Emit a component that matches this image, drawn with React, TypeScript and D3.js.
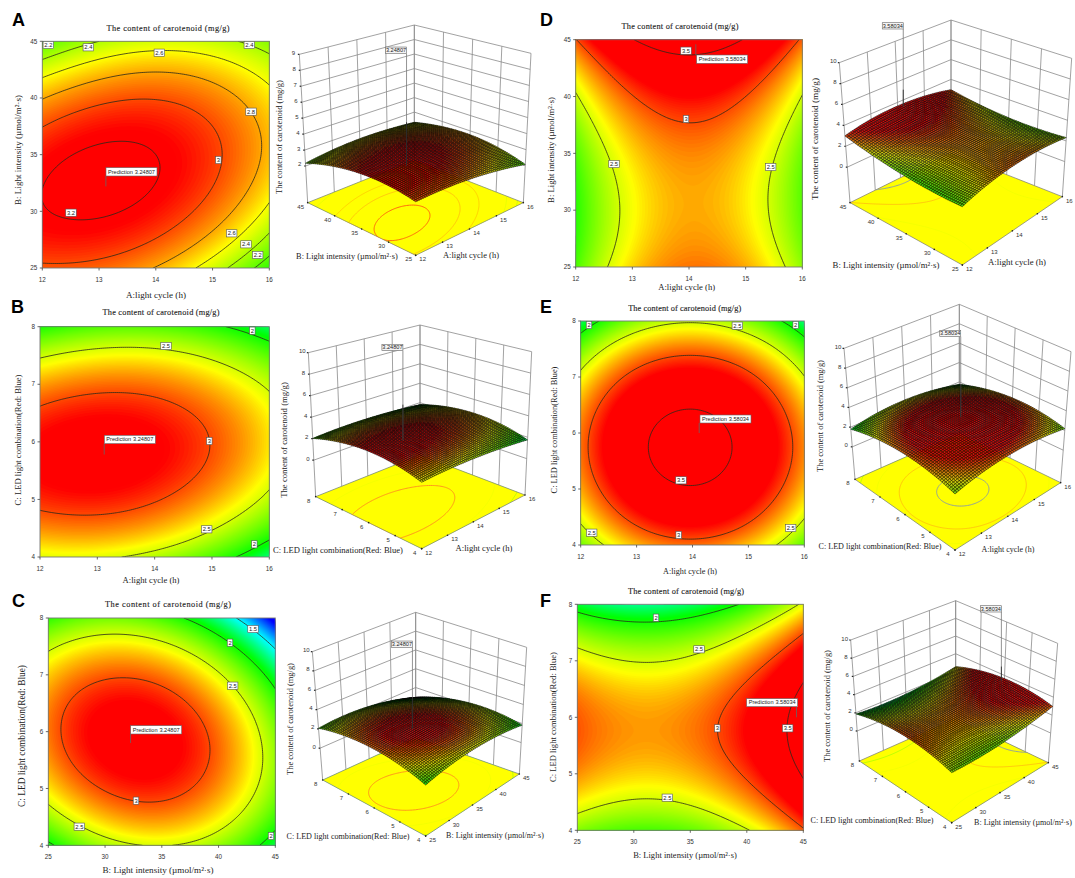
import React, { useEffect, useRef } from "react";
import * as d3 from "d3";

// ---------- values (rows: y-factor high to low, columns: x-factor low to high)
const heatA = [
  [2.17, 2.40, 2.50, 2.46, 2.30],
  [2.79, 2.95, 2.99, 2.89, 2.66],
  [3.13, 3.23, 3.20, 3.04, 2.75],
  [3.19, 3.22, 3.13, 2.91, 2.55],
  [2.97, 2.94, 2.79, 2.50, 2.08],
];
const heatB = [
  [2.02, 2.16, 2.17, 2.05, 1.79],
  [2.81, 2.92, 2.90, 2.74, 2.45],
  [3.17, 3.24, 3.18, 2.99, 2.66],
  [3.07, 3.11, 3.02, 2.79, 2.43],
  [2.53, 2.54, 2.41, 2.15, 1.75],
];
const heatC = [
  [2.06, 2.25, 2.13, 1.70, 0.95],
  [2.71, 2.96, 2.90, 2.53, 1.85],
  [2.90, 3.22, 3.22, 2.91, 2.29],
  [2.65, 3.02, 3.09, 2.84, 2.29],
  [1.94, 2.38, 2.51, 2.33, 1.83],
];
const heatD = [
  [2.99, 3.49, 3.65, 3.48, 2.96],
  [2.47, 2.99, 3.16, 3.00, 2.49],
  [2.16, 2.69, 2.87, 2.72, 2.23],
  [2.05, 2.59, 2.79, 2.65, 2.18],
  [2.14, 2.70, 2.91, 2.79, 2.32],
];
const heatE = [
  [1.79, 2.31, 2.47, 2.28, 1.74],
  [2.57, 3.09, 3.25, 3.06, 2.51],
  [2.90, 3.42, 3.59, 3.39, 2.85],
  [2.79, 3.31, 3.48, 3.28, 2.74],
  [2.24, 2.76, 2.92, 2.73, 2.18],
];
const heatF = [
  [1.87, 1.71, 1.78, 2.05, 2.55],
  [2.64, 2.49, 2.55, 2.83, 3.32],
  [2.97, 2.82, 2.88, 3.16, 3.65],
  [2.85, 2.70, 2.76, 3.04, 3.53],
  [2.29, 2.14, 2.20, 2.48, 2.97],
];
const cycleTicks = [12, 13, 14, 15, 16];
const intensityTicks = [25, 30, 35, 40, 45];
const ledTicks = [4, 5, 6, 7, 8];
const zTicksA = [2, 3, 4, 5, 6, 7, 8, 9];
const zTicksOther = [0, 2, 4, 6, 8, 10];
const levelsA = [2.2, 2.4, 2.6, 2.8, 3, 3.2];
const levelsOther = [1.5, 2, 2.5, 3, 3.5];
const colorValues = [1.05, 1.5, 1.95, 2.6, 3.15];
const colorStops = ["#0000ff", "#00ffff", "#00ff00", "#ffff00", "#ff0000"];
const predictionABC = "3.24807";
const predictionDEF = "3.58034";
const TITLE = "The content of carotenoid (mg/g)";
const CYCLE = "A:light cycle (h)";
const INTENSITY = "B: Light intensity (µmol/m²·s)";
const LED = "C: LED light combination(Red: Blue)";

type Pt = [number, number];
// ---------- layout (zoom coordinates are 3x crops from an origin)
const panels: any[] = [
  {
    id: "A", table: heatA, xt: cycleTicks, yt: intensityTicks, levels: levelsA, pred: predictionABC, zTicks: zTicksA, zBot: -0.3, zTop: 9,
    letter: [12, 26], box: [42.3, 269.3, 41.3, 268],
    title: [168, 31, 123], xl: [CYCLE, 156, 298, 60], yl: [INTENSITY, 21, 150, 110],
    org: [0, 0], labels: [["2.2", 145, 135], ["2.4", 265, 142], ["2.6", 478, 158], ["2.4", 748, 135], ["2.8", 753, 335], ["3", 655, 480], ["3.2", 213, 638], ["2.6", 695, 700], ["2.4", 738, 733], ["2.2", 773, 765]],
    design: [-0.44, -0.28], flag: [318, 503, 528],
    org3: [270, 20], L: [113, 548], F: [437, 706], R: [760, 548], K: [433, 420], Lt: [88, 103], Ft: [437, 249], Rt: [783, 100], Kt: [433, 15], flag3: 100,
    t3l: [INTENSITY, 347, 259, 102], t3r: [CYCLE, 471, 258, 56], t3z: [282, 137, 114],
  },
  {
    id: "B", table: heatB, xt: cycleTicks, yt: ledTicks, levels: levelsOther, pred: predictionABC, zTicks: zTicksOther, zBot: -3.4, zTop: 10,
    letter: [11, 313], box: [40, 269.3, 326.7, 557],
    title: [161, 315, 117], xl: [CYCLE, 151, 583, 57], yl: [LED, 21, 440, 131],
    org: [0, 295], labels: [["2", 757, 107], ["2.5", 498, 153], ["3", 628, 438], ["2.5", 620, 703], ["2", 763, 748]],
    design: [-0.44, -0.11], flag: [313, 421, 446],
    org3: [270, 310], L: [137, 560], F: [455, 716], R: [765, 555], K: [450, 435], Lt: [115, 128], Ft: [455, 266], Rt: [785, 125], Kt: [450, 45], flag3: 122,
    t3l: [LED, 338, 553, 130], t3r: [CYCLE, 484, 551, 57], t3z: [287, 440, 116],
  },
  {
    id: "C", table: heatC, xt: intensityTicks, yt: ledTicks, levels: levelsOther, pred: predictionABC, zTicks: zTicksOther, zBot: -3.3, zTop: 10,
    letter: [12, 607], box: [48.3, 275.3, 618, 845.3],
    title: [168, 607, 126], xl: [INTENSITY, 158, 873, 111], yl: [LED, 25, 736, 142],
    org: [0, 590], labels: [["1.5", 759, 117], ["2", 690, 158], ["2.5", 698, 287], ["3", 408, 632], ["2.5", 238, 710], ["2", 813, 738]],
    design: [-0.275, -0.1], flag: [392, 407, 432],
    org3: [270, 600], L: [158, 540], F: [467, 708], R: [748, 522], K: [437, 412], Lt: [127, 155], Ft: [467, 320], Rt: [770, 142], Kt: [437, 37], flag3: 142,
    t3l: [LED, 348, 839, 123], t3r: [INTENSITY, 495, 838, 98], t3z: [293, 719, 112],
  },
  {
    id: "D", table: heatD, xt: cycleTicks, yt: intensityTicks, levels: levelsOther, pred: predictionDEF, zTicks: zTicksOther, zBot: -3.4, zTop: 10,
    letter: [540, 26], box: [575.7, 802.3, 39.7, 267],
    title: [680, 29, 117], xl: [CYCLE, 686.7, 290, 57], yl: [INTENSITY, 554, 150, 106],
    org: [540, 10], labels: [["3.5", 438, 122], ["3", 438, 327], ["2.5", 222, 462], ["2.5", 692, 471]],
    design: [0.06, 0.96], flag: [470, 135, 160],
    org3: [800, 10], L: [150, 578], F: [487, 765], R: [787, 560], K: [453, 428], Lt: [118, 158], Ft: [487, 342], Rt: [815, 145], Kt: [453, 30], flag3: 57,
    t3l: [INTENSITY, 886, 268, 107], t3r: [CYCLE, 1017, 265, 58], t3z: [818, 139, 122],
  },
  {
    id: "E", table: heatE, xt: cycleTicks, yt: ledTicks, levels: levelsOther, pred: predictionDEF, zTicks: zTicksOther, zBot: -3.3, zTop: 10,
    letter: [540, 313], box: [580.7, 804.3, 321, 545],
    title: [684.7, 311, 113], xl: [CYCLE, 690, 574, 54], yl: [LED, 557, 430, 127],
    org: [540, 295], labels: [["2", 147, 90], ["2.5", 592, 92], ["2", 767, 90], ["3.5", 423, 556], ["3", 416, 720], ["2.5", 155, 713], ["2.5", 752, 699]],
    design: [0.06, 0], flag: [480, 360, 384],
    org3: [800, 300], L: [165, 538], F: [465, 750], R: [782, 548], K: [478, 400], Lt: [132, 145], Ft: [465, 347], Rt: [813, 155], Kt: [478, 13], flag3: 110,
    t3l: [LED, 880, 549, 123], t3r: [CYCLE, 1008, 552, 53], t3z: [823, 416, 112],
  },
  {
    id: "F", table: heatF, xt: intensityTicks, yt: ledTicks, levels: levelsOther, pred: predictionDEF, zTicks: zTicksOther, zBot: -3.3, zTop: 10,
    letter: [540, 607], box: [577.3, 803.3, 604.3, 830.3],
    title: [686, 594, 116], xl: [INTENSITY, 685, 858, 104], yl: [LED, 556, 717, 130],
    org: [540, 590], labels: [["2", 348, 83], ["2.5", 477, 178], ["3", 532, 415], ["3.5", 743, 415], ["2.5", 382, 623]],
    design: [0.94, 0], flag: [620, 326, 350],
    org3: [800, 590], L: [178, 513], F: [455, 698], R: [745, 518], K: [467, 385], Lt: [152, 150], Ft: [455, 341], Rt: [773, 160], Kt: [467, 32], flag3: 66,
    t3l: [LED, 872, 823, 123], t3r: [INTENSITY, 1023, 825, 98], t3z: [830, 706, 112],
  },
];

const SERIF = "'Liberation Serif', serif";
const SANS = "'Liberation Sans', sans-serif";
const heat = d3.scaleLinear<string>().domain(colorValues).range(colorStops).interpolate(d3.interpolateRgb).clamp(true);
const nodes = [-1, -0.5, 0, 0.5, 1];
const basis = (t: number) =>
  nodes.map((n, i) => nodes.reduce((p, m, j) => (j === i ? p : (p * (t - m)) / (n - m)), 1));
function sampler(table: number[][]) {
  return (u: number, v: number) => {
    const bu = basis(u), bv = basis(v);
    let s = 0;
    for (let r = 0; r < 5; r++) for (let c = 0; c < 5; c++) s += table[4 - r][c] * bv[r] * bu[c];
    return s;
  };
}

function drawPanel(root: any, p: any, idx: number) {
  const f = sampler(p.table);
  const N = 115;
  const grid = new Array(N * N);
  for (let j = 0; j < N; j++)
    for (let i = 0; i < N; i++) grid[j * N + i] = f(-1 + (2 * i) / (N - 1), 1 - (2 * j) / (N - 1));
  const [minV, maxV] = d3.extent(grid) as [number, number];
  const [x0, x1, y0, y1] = p.box;
  const sx = d3.scaleLinear().domain([-1, 1]).range([x0, x1]);
  const sy = d3.scaleLinear().domain([-1, 1]).range([y1, y0]);
  const gu = (g: number) => -1 + (2 * (g - 0.5)) / (N - 1);
  const gv = (g: number) => 1 - (2 * (g - 0.5)) / (N - 1);
  const contours = d3.contours().size([N, N]);
  const z = (q: number[], org: number[]): Pt => [org[0] + q[0] / 3, org[1] + q[1] / 3];

  const g = root.append("g");
  // ---- panel letter
  g.append("text").attr("x", p.letter[0]).attr("y", p.letter[1]).attr("font-family", SANS).attr("font-weight", 700).attr("font-size", 18).text(p.id);

  // ---- 2D heat map
  const clipId = "clip" + idx;
  root.append("clipPath").attr("id", clipId).append("rect").attr("x", x0).attr("y", y0).attr("width", x1 - x0).attr("height", y1 - y0);
  const hm = g.append("g").attr("clip-path", `url(#${clipId})`);
  hm.append("rect").attr("x", x0).attr("y", y0).attr("width", x1 - x0).attr("height", y1 - y0).attr("fill", heat(minV));
  const path2d = d3.geoPath(d3.geoTransform({
    point(this: any, a: number, b: number) { this.stream.point(sx(gu(a)), sy(gv(b))); },
  }));
  const step = 0.015;
  d3.range(minV + step, maxV, step).forEach((th) => {
    hm.append("path").attr("d", path2d(contours.contour(grid, th) as any)).attr("fill", heat(th));
  });
  p.levels.forEach((lv: number) => {
    if (lv <= minV || lv >= maxV) return;
    hm.append("path").attr("d", path2d(contours.contour(grid, lv) as any)).attr("fill", "none").attr("stroke", "#2a2a1a").attr("stroke-width", 0.8);
  });
  g.append("rect").attr("x", x0).attr("y", y0).attr("width", x1 - x0).attr("height", y1 - y0).attr("fill", "none").attr("stroke", "#777").attr("stroke-width", 0.9);
  // axes
  const tx = d3.scaleLinear().domain(d3.extent(p.xt) as any).range([x0, x1]);
  const ty = d3.scaleLinear().domain(d3.extent(p.yt) as any).range([y1, y0]);
  p.xt.forEach((t: number) => {
    g.append("line").attr("x1", tx(t)).attr("x2", tx(t)).attr("y1", y1).attr("y2", y1 + 2.5).attr("stroke", "#444").attr("stroke-width", 0.8);
    g.append("text").attr("x", tx(t)).attr("y", y1 + 14).attr("text-anchor", "middle").attr("font-family", SANS).attr("font-size", 6.3).attr("fill", "#333").text(t);
  });
  p.yt.forEach((t: number) => {
    g.append("line").attr("x1", x0 - 2.5).attr("x2", x0).attr("y1", ty(t)).attr("y2", ty(t)).attr("stroke", "#444").attr("stroke-width", 0.8);
    g.append("text").attr("x", x0 - 5).attr("y", ty(t) + 2.2).attr("text-anchor", "end").attr("font-family", SANS).attr("font-size", 6.3).attr("fill", "#333").text(t);
  });
  // serif text whose font size is fitted to the width it has in the reference
  const serifText = (x: number, y: number, s: string, len: number, rot = false) => {
    const e = g.append("text").attr("font-family", SERIF).attr("font-size", 10).attr("fill", "#222").attr("text-anchor", "middle").text(s);
    if (rot) e.attr("transform", `translate(${x},${y}) rotate(-90)`);
    else e.attr("x", x).attr("y", y);
    const nat = e.node().getComputedTextLength();
    if (nat > 0) e.attr("font-size", (10 * len) / nat);
    return e;
  };
  g.append("text").attr("x", p.title[0]).attr("y", p.title[1]).attr("text-anchor", "middle").attr("font-family", SERIF).attr("font-size", 8.3)
    .attr("fill", "#222").attr("stroke", "#222").attr("stroke-width", 0.12).attr("textLength", p.title[2]).attr("lengthAdjust", "spacing").text(TITLE);
  serifText(p.xl[1], p.xl[2], p.xl[0], p.xl[3]);
  serifText(p.yl[1], p.yl[2], p.yl[0], p.yl[3], true);
  // contour labels
  p.labels.forEach((l: any) => {
    const [cx, cy] = z([l[1], l[2]], p.org);
    const w = l[0].length > 1 ? 10.5 : 5.5;
    g.append("rect").attr("x", cx - w / 2).attr("y", cy - 3.6).attr("width", w).attr("height", 7.2).attr("fill", "#fff").attr("stroke", "#555").attr("stroke-width", 0.6);
    g.append("text").attr("x", cx).attr("y", cy + 2).attr("text-anchor", "middle").attr("font-family", SANS).attr("font-size", 5.8).attr("fill", "#222").text(l[0]);
  });
  // prediction flag on the map
  const fx0 = z([p.flag[0], p.flag[1]], p.org);
  const fy1 = z([p.flag[0], p.flag[2]], p.org)[1];
  const dx = sx(p.design[0]), dy = sy(p.design[1]);
  const bw = 51;
  g.append("line").attr("x1", dx).attr("x2", dx).attr("y1", dy).attr("y2", dy < fx0[1] ? fx0[1] : fy1).attr("stroke", "#666").attr("stroke-width", 0.8);
  g.append("rect").attr("x", fx0[0]).attr("y", fx0[1]).attr("width", bw).attr("height", fy1 - fx0[1]).attr("fill", "#fff").attr("stroke", "#666").attr("stroke-width", 0.6);
  g.append("text").attr("x", fx0[0] + 2).attr("y", fy1 - 2.3).attr("font-family", SANS).attr("font-size", 5.6).attr("fill", "#222").text("Prediction");
  g.append("text").attr("x", fx0[0] + bw - 2).attr("y", fy1 - 2.3).attr("text-anchor", "end").attr("font-family", SANS).attr("font-size", 5.6).attr("fill", "#222").text(p.pred);

  // ---- 3D surface
  const c = (q: number[]) => z(q, p.org3);
  const L = c(p.L), F = c(p.F), R = c(p.R), K = c(p.K);
  const Lt = c(p.Lt), Ft = c(p.Ft), Rt = c(p.Rt), Kt = c(p.Kt);
  const bil = (a: Pt, b: Pt, d: Pt, e: Pt, u: number, v: number): Pt => {
    const s = (u + 1) / 2, t = (v + 1) / 2;
    return [
      a[0] * (1 - s) * (1 - t) + b[0] * s * (1 - t) + d[0] * (1 - s) * t + e[0] * s * t,
      a[1] * (1 - s) * (1 - t) + b[1] * s * (1 - t) + d[1] * (1 - s) * t + e[1] * s * t,
    ];
  };
  const hs = d3.scaleLinear().domain([p.zBot, p.zTop]).range([0, 1]);
  const P = (u: number, v: number, zz: number): Pt => {
    const a = bil(F, R, L, K, u, v), b = bil(Ft, Rt, Lt, Kt, u, v), h = hs(zz);
    return [a[0] + (b[0] - a[0]) * h, a[1] + (b[1] - a[1]) * h];
  };
  const g3 = g.append("g");
  const su = d3.scaleLinear().domain(d3.extent(p.xt) as any).range([-1, 1]);
  const sv = d3.scaleLinear().domain(d3.extent(p.yt) as any).range([-1, 1]);
  const wall = (a: Pt, b: Pt, w = 0.8, col = "#8a8a8a") =>
    g3.append("line").attr("x1", a[0]).attr("y1", a[1]).attr("x2", b[0]).attr("y2", b[1]).attr("stroke", col).attr("stroke-width", w);
  // walls
  const zLines = [...p.zTicks];
  if (!zLines.includes(p.zTop)) zLines.push(p.zTop);
  zLines.forEach((t: number) => {
    wall(P(-1, 1, t), P(1, 1, t));
    wall(P(1, 1, t), P(1, -1, t));
  });
  p.xt.forEach((t: number) => wall(P(su(t), 1, p.zBot), P(su(t), 1, p.zTop)));
  p.yt.forEach((t: number) => wall(P(1, sv(t), p.zBot), P(1, sv(t), p.zTop)));
  // z axis ticks
  p.zTicks.forEach((t: number) => {
    const q = P(-1, 1, t);
    wall([q[0] - 1.5, q[1]], q, 1.2, "#222");
    g3.append("text").attr("x", q[0] - 6).attr("y", q[1] + 0.5).attr("text-anchor", "middle").attr("font-family", SANS).attr("font-size", 6).attr("fill", "#333").text(t);
  });
  // floor
  const floorPath = `M${L}L${F}L${R}L${K}Z`;
  const clip3 = "floor" + idx;
  root.append("clipPath").attr("id", clip3).append("path").attr("d", floorPath);
  g3.append("path").attr("d", floorPath).attr("fill", "#ffff00").attr("stroke", "#777").attr("stroke-width", 0.7);
  const floorProj = d3.geoPath(d3.geoTransform({
    point(this: any, a: number, b: number) { const q = P(gu(a), gv(b), p.zBot); this.stream.point(q[0], q[1]); },
  }));
  const fl = g3.append("g").attr("clip-path", `url(#${clip3})`);
  const topLevel = d3.max(p.levels.filter((lv: number) => lv < maxV)) as number;
  p.levels.forEach((lv: number) => {
    if (lv <= minV || lv >= maxV) return;
    fl.append("path").attr("d", floorProj(contours.contour(grid, lv) as any)).attr("fill", "none")
      .attr("stroke", lv >= 3.5 ? "#8899aa" : lv >= 3.1 ? "#ff5a10" : lv >= 2.9 ? "#ff8a20" : heat(lv))
      .attr("stroke-width", lv === topLevel ? 0.9 : 0.6)
      .attr("stroke-opacity", lv < 2.75 ? 0.45 : lv === topLevel ? 1 : 0.75);
  });
  // floor ticks + labels
  p.yt.forEach((t: number) => {
    const q = P(-1, sv(t), p.zBot);
    g3.append("circle").attr("cx", q[0]).attr("cy", q[1]).attr("r", 0.8).attr("fill", "#222");
    g3.append("text").attr("x", q[0] - 7).attr("y", q[1] + 6).attr("text-anchor", "middle").attr("font-family", SANS).attr("font-size", 6).attr("fill", "#333").text(t);
  });
  p.xt.forEach((t: number) => {
    const q = P(su(t), -1, p.zBot);
    g3.append("circle").attr("cx", q[0]).attr("cy", q[1]).attr("r", 0.8).attr("fill", "#222");
    g3.append("text").attr("x", q[0] + 7).attr("y", q[1] + 6).attr("text-anchor", "middle").attr("font-family", SANS).attr("font-size", 6).attr("fill", "#333").text(t);
  });
  // surface mesh, painted back to front
  const M = 56;
  const surf = g3.append("g").attr("filter", "url(#soft)");
  const mute = d3.interpolateRgb;
  for (let iu = M - 1; iu >= 0; iu--) {
    for (let iv = M - 1; iv >= 0; iv--) {
      const u0 = -1 + (2 * iu) / M, u1 = -1 + (2 * (iu + 1)) / M;
      const v0 = -1 + (2 * iv) / M, v1 = -1 + (2 * (iv + 1)) / M;
      const q = [P(u0, v0, f(u0, v0)), P(u1, v0, f(u1, v0)), P(u1, v1, f(u1, v1)), P(u0, v1, f(u0, v1))];
      const col = mute(heat(f((u0 + u1) / 2, (v0 + v1) / 2)), "#3a2a2a")(0.25);
      surf.append("path").attr("d", `M${q.join("L")}Z`).attr("fill", col).attr("stroke", "#000").attr("stroke-width", 0.55).attr("stroke-opacity", 0.85);
    }
  }
  // prediction flag on the surface
  const dp = P(p.design[0], p.design[1], +p.pred);
  const back = P(1, 1, f(1, 1));
  const by = c([0, p.flag3])[1];
  wall([dp[0], by], dp, 0.8, "#777");
  wall([dp[0], Math.min(back[1], dp[1])], dp, 0.7, "#111");
  g3.append("rect").attr("x", dp[0] - 21).attr("y", by - 6.3).attr("width", 21).attr("height", 6.3).attr("fill", "#f4f4f4").attr("stroke", "#666").attr("stroke-width", 0.6);
  g3.append("text").attr("x", dp[0] - 10.5).attr("y", by - 1.2).attr("text-anchor", "middle").attr("font-family", SANS).attr("font-size", 5.6).attr("fill", "#222").text(p.pred);
  // axis titles
  serifText(p.t3l[1], p.t3l[2], p.t3l[0], p.t3l[3]);
  serifText(p.t3r[1], p.t3r[2], p.t3r[0], p.t3r[3]);
  serifText(p.t3z[0], p.t3z[1], TITLE, p.t3z[2], true);
}

export default function App() {
  const ref = useRef<SVGSVGElement>(null);
  useEffect(() => {
    const root = d3.select(ref.current);
    root.selectAll("*").remove();
    root.append("filter").attr("id", "soft").attr("x", "-5%").attr("y", "-5%").attr("width", "110%").attr("height", "110%")
      .append("feGaussianBlur").attr("stdDeviation", 0.4);
    panels.forEach((p, i) => drawPanel(root, p, i));
  }, []);
  return <svg ref={ref} width={1075} height={878} style={{ position: "absolute", left: 0, top: 0, background: "#fff" }} />;
}
